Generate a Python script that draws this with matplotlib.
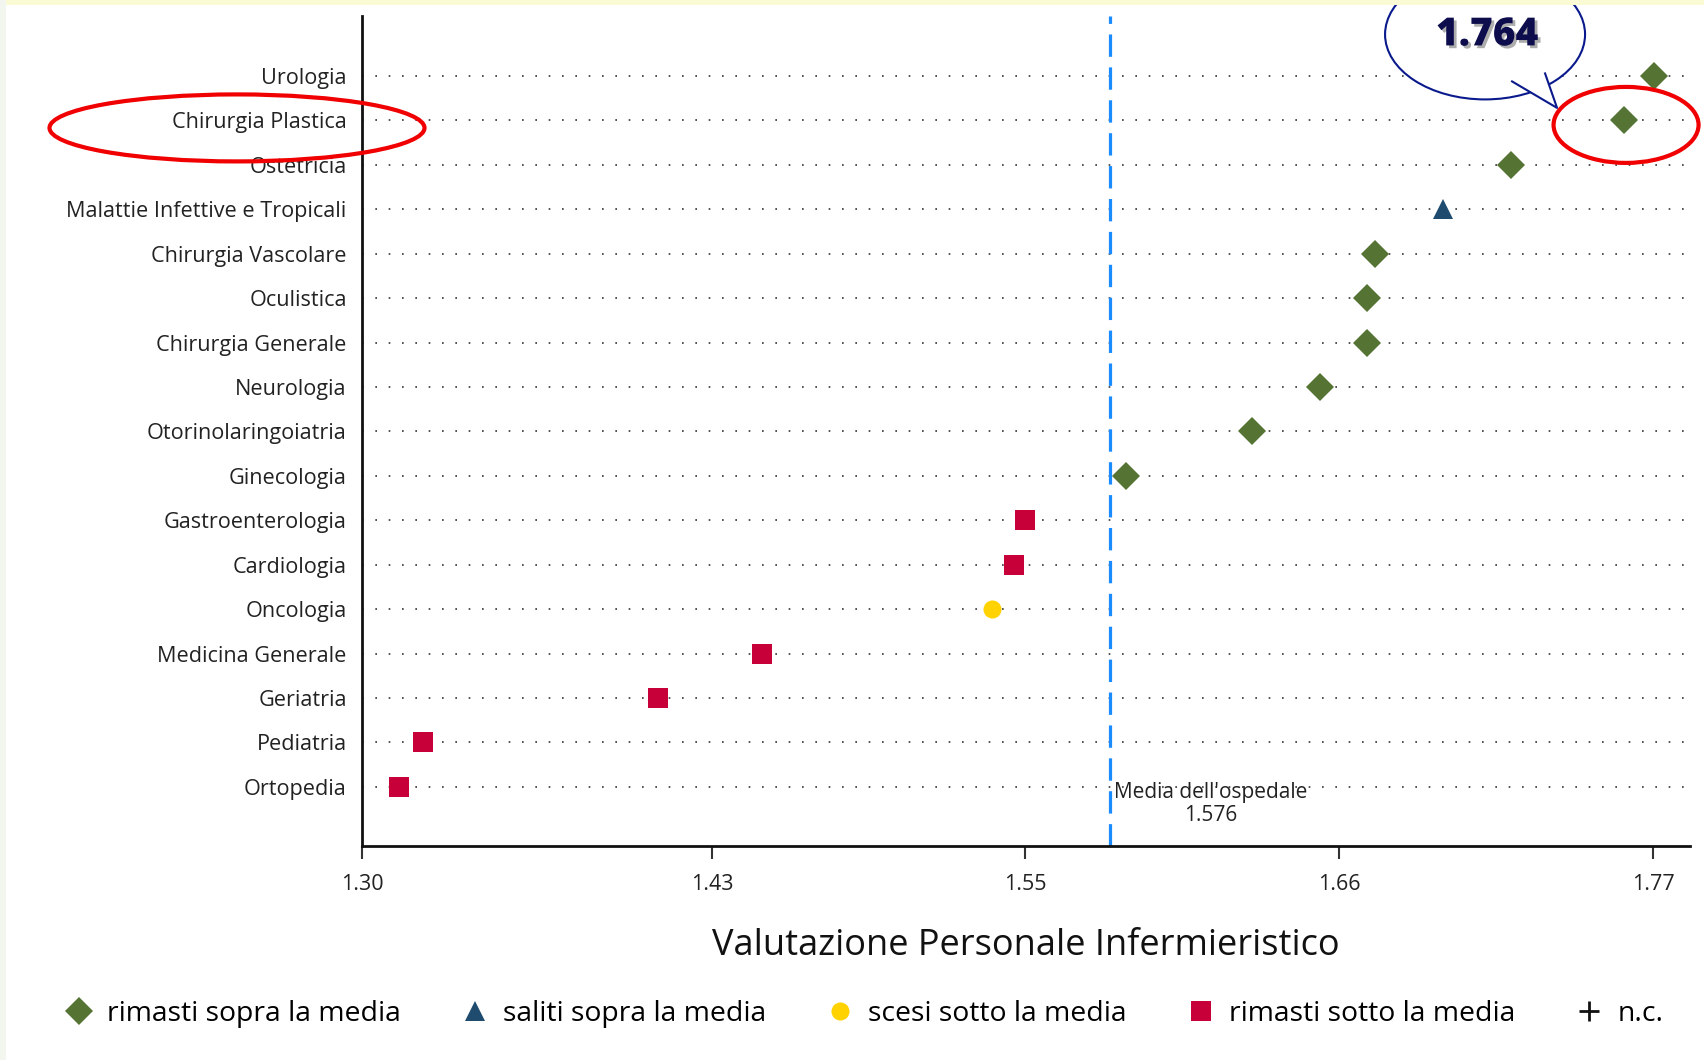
import numpy as np
import matplotlib.pyplot as plt
import matplotlib.patheffects as pe
from matplotlib.patches import Ellipse, Polygon, Rectangle
from matplotlib.transforms import IdentityTransform
from matplotlib.ticker import FormatStrFormatter

plt.rcParams['font.family'] = ['Open Sans', 'DejaVu Sans']

# dati (dal basso verso l'alto)
reparti = ['Ortopedia', 'Pediatria', 'Geriatria', 'Medicina Generale', 'Oncologia',
           'Cardiologia', 'Gastroenterologia', 'Ginecologia', 'Otorinolaringoiatria',
           'Neurologia', 'Chirurgia Generale', 'Oculistica', 'Chirurgia Vascolare',
           'Malattie Infettive e Tropicali', 'Ostetricia', 'Chirurgia Plastica', 'Urologia']
valori = [1.316, 1.325, 1.411, 1.449, 1.533,
          1.541, 1.545, 1.582, 1.628,
          1.653, 1.670, 1.670, 1.673,
          1.698, 1.723, 1.764, 1.775]
stato = ['sotto', 'sotto', 'sotto', 'sotto', 'scesi',
         'sotto', 'sotto', 'sopra', 'sopra',
         'sopra', 'sopra', 'sopra', 'sopra',
         'saliti', 'sopra', 'sopra', 'sopra']
media = 1.576
xticks = [1.3026, 1.4306, 1.5451, 1.6599, 1.7748]
xlim = (1.3026, 1.7883)

gruppi = [('sopra', 'rimasti sopra la media', 'D', '#557332', 14),
          ('saliti', 'saliti sopra la media', '^', '#1e4b6e', 14),
          ('scesi', 'scesi sotto la media', 'o', '#ffd200', 13),
          ('sotto', 'rimasti sotto la media', 's', '#c8003a', 14),
          ('nc', 'n.c.', '+', '#111111', 14)]

W, H = 1704, 1060
fig = plt.figure(figsize=(W / 100, H / 100), dpi=100)
fig.patch.set_facecolor('white')
ax = fig.add_axes([362 / W, 1 - 846 / H, (1690 - 362) / W, (846 - 16) / H])

y = np.arange(len(reparti))
for yi in y:
    ax.axhline(yi, color='#333333', lw=1.2, linestyle=(0, (1, 7)), zorder=1)

ax.axvline(media, color='#1a8cff', lw=2.3, linestyle=(0, (7, 3.3)), zorder=2)
ax.annotate("Media dell'ospedale\n1.576", xy=(media, -0.39), xytext=(3, 0),
            textcoords='offset points', ha='left', va='center', multialignment='center',
            fontsize=15, color='#222222', linespacing=1.15)

valori = np.array(valori)
stato = np.array(stato)
for key, lab, mk, col, ms in gruppi:
    sel = stato == key
    ax.plot(valori[sel], y[sel], linestyle='none', marker=mk, color=col,
            markersize=ms, markeredgewidth=2 if mk == '+' else 0, label=lab, zorder=3)

ax.set_xlim(*xlim)
ax.set_ylim(-1.33, len(reparti) - 1 + 1.35)
ax.set_yticks(y)
ax.set_yticklabels(reparti, fontsize=15.6, color='#222222')
ax.set_xticks(xticks)
ax.xaxis.set_major_formatter(FormatStrFormatter('%.2f'))
ax.tick_params(axis='y', length=0, pad=11)
ax.tick_params(axis='x', length=9, width=1.5, color='#333333', labelsize=15.5,
               labelcolor='#222222', pad=11)
for s in ['top', 'right']:
    ax.spines[s].set_visible(False)
for s in ['left', 'bottom']:
    ax.spines[s].set_linewidth(2)
    ax.spines[s].set_color('#111111')
ax.set_xlabel('Valutazione Personale Infermieristico', fontsize=26, color='#111111',
              labelpad=24)

fig.legend(loc='center', bbox_to_anchor=(0.507, 1 - 1014 / H), ncol=5, frameon=False,
           fontsize=20.4, handlelength=1.0, handletextpad=0.5, columnspacing=2.1,
           markerscale=1.0)

# evidenziazioni (coordinate in pixel, agganciate al punto dei dati)
fig.canvas.draw()
idx = reparti.index('Chirurgia Plastica')
px, py = ax.transData.transform((valori[idx], idx))
pid = IdentityTransform()

fig.add_artist(Ellipse((237, py - 7.5), 375, 67, fill=False, edgecolor='#f00000',
                       lw=3, transform=pid, zorder=10))
fig.add_artist(Ellipse((px + 2.5, py - 4.5), 145, 76, fill=False, edgecolor='#f00000',
                       lw=3, transform=pid, zorder=10))

navy = '#0a1a8c'
fig.add_artist(Ellipse((px - 138.5, py + 86), 200, 130, facecolor='white',
                       edgecolor=navy, lw=1.5, transform=pid, zorder=11))
coda = [(px - 111.5, py + 39), (px - 66.5, py + 12.5), (px - 78.5, py + 47)]
fig.add_artist(Polygon(coda, closed=True, facecolor='white', edgecolor='none',
                       transform=pid, zorder=12))
fig.add_artist(plt.Line2D([coda[0][0], coda[1][0], coda[2][0]],
                          [coda[0][1], coda[1][1], coda[2][1]],
                          color=navy, lw=1.5, transform=pid, zorder=13))
fig.text(px - 136.5, py + 85.5, '1.764', transform=pid, ha='center', va='center',
         fontsize=28, fontweight='heavy', color='#0d0d4d', zorder=14,
         path_effects=[pe.withSimplePatchShadow(offset=(2, -2), shadow_rgbFace='#777777',
                                                alpha=0.6)])

# bordi chiari della slide
fig.add_artist(Rectangle((0, 1 - 5 / H), 1, 5 / H, transform=fig.transFigure,
                         facecolor='#fafad4', edgecolor='none', zorder=20))
fig.add_artist(Rectangle((0, 0), 6 / W, 1, transform=fig.transFigure,
                         facecolor='#f2f6ee', edgecolor='none', zorder=20))

fig.savefig('out.png', dpi=100)
